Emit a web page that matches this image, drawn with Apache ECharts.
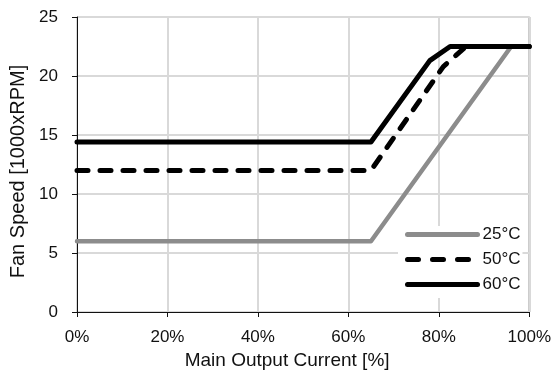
<!DOCTYPE html>
<html>
<head>
<meta charset="utf-8">
<script src="https://cdn.jsdelivr.net/npm/echarts@6/dist/echarts.min.js"></script>
<style>
  html, body { margin: 0; padding: 0; background: #fff; }
  #chart { width: 554px; height: 377px; }
</style>
</head>
<body>
<div id="chart"></div>
<script>
// fan speed curves
const xTicks = [0, 20, 40, 60, 80, 100];
const yTicks = [0, 5, 10, 15, 20, 25];

const seriesNames = ['25°C', '50°C', '60°C'];

const current25 = [0, 65, 96, 100];
const speed25 = [6, 6, 22.5, 22.5];

const current50 = [0, 65, 81, 86, 100];
const speed50 = [12, 12, 20.8, 22.5, 22.5];

const current60 = [0, 65, 78, 82.5, 100];
const speed60 = [14.4, 14.4, 21.3, 22.5, 22.5];

const FONT = "'Liberation Sans', Arial, sans-serif";

function pairs(xs, ys) {
  return xs.map((x, i) => [x, ys[i]]);
}

const chart = echarts.init(document.getElementById('chart'));

const option = {
  animation: false,
  textStyle: { fontFamily: FONT, color: '#111' },
  grid: {
    left: 77,
    right: 23,
    top: 17,
    bottom: 65,
    show: true,
    borderColor: '#333',
    borderWidth: 1
  },
  legend: {
    orient: 'vertical',
    left: 398,
    top: 226,
    padding: [0, 2, 5, 7],
    itemGap: 8,
    itemWidth: 70,
    itemHeight: 14,
    backgroundColor: '#fff',
    itemStyle: { opacity: 0 },
    lineStyle: { width: 5, cap: 'round' },
    textStyle: { fontFamily: FONT, fontSize: 17, color: '#111' },
    data: [
      { name: seriesNames[0] },
      { name: seriesNames[1], lineStyle: { width: 5, type: [11, 14], cap: 'round' } },
      { name: seriesNames[2] }
    ]
  },
  xAxis: {
    type: 'value',
    min: xTicks[0],
    max: xTicks[xTicks.length - 1],
    interval: 20,
    name: 'Main Output Current [%]',
    nameLocation: 'middle',
    nameGap: 38,
    nameTextStyle: { fontFamily: FONT, fontSize: 19, color: '#111', padding: [0, 32, 0, 0] },
    axisLine: { lineStyle: { color: '#111', width: 1 } },
    axisTick: { show: true, inside: false, length: 5, lineStyle: { color: '#111' } },
    axisLabel: { fontFamily: FONT, fontSize: 17, color: '#111', margin: 17, formatter: '{value}%' },
    splitLine: { show: true, lineStyle: { color: '#d9d9d9', width: 2 } }
  },
  yAxis: {
    type: 'value',
    min: yTicks[0],
    max: yTicks[yTicks.length - 1],
    interval: 5,
    name: 'Fan Speed [1000xRPM]',
    nameLocation: 'middle',
    nameGap: 42,
    nameTextStyle: { fontFamily: FONT, fontSize: 20, color: '#111', padding: [0, 14, 0, 0] },
    axisLine: { show: true, lineStyle: { color: '#111', width: 1 } },
    axisTick: { show: true, inside: false, length: 5, lineStyle: { color: '#111' } },
    axisLabel: { fontFamily: FONT, fontSize: 17, color: '#111', margin: 19 },
    splitLine: { show: true, lineStyle: { color: '#d9d9d9', width: 2 } }
  },
  series: [
    {
      name: seriesNames[0],
      type: 'line',
      symbol: 'none',
      data: pairs(current25, speed25),
      lineStyle: { color: '#8c8c8c', width: 4.5, cap: 'round', join: 'round' },
      itemStyle: { color: '#8c8c8c' },
      z: 2
    },
    {
      name: seriesNames[1],
      type: 'line',
      symbol: 'none',
      data: pairs(current50, speed50),
      lineStyle: { color: '#000', width: 5, type: [11, 12], cap: 'round', join: 'round' },
      itemStyle: { color: '#000' },
      z: 3
    },
    {
      name: seriesNames[2],
      type: 'line',
      symbol: 'none',
      data: pairs(current60, speed60),
      lineStyle: { color: '#000', width: 5, cap: 'round', join: 'round' },
      itemStyle: { color: '#000' },
      z: 4
    }
  ]
};

chart.setOption(option);
</script>
</body>
</html>
